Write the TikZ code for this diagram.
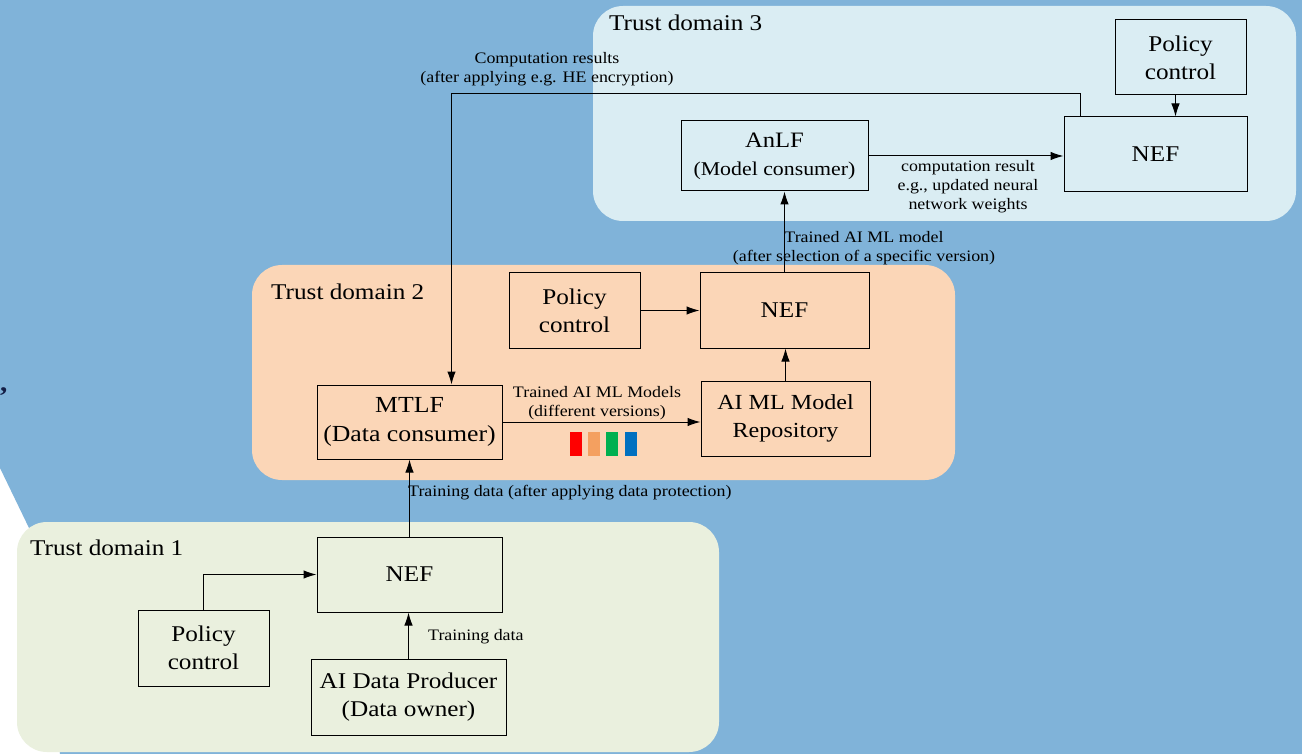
\documentclass[tikz,border=0pt]{standalone}
\usepackage{fontspec}
\setmainfont{Liberation Serif}[FakeStretch=1.12]
\usetikzlibrary{arrows.meta}
\definecolor{bgblue}{RGB}{128,179,217}
\definecolor{domthree}{RGB}{218,237,243}
\definecolor{domtwo}{RGB}{251,214,183}
\definecolor{domone}{RGB}{234,240,222}
\definecolor{navy}{RGB}{20,30,70}
\definecolor{barred}{RGB}{255,0,0}
\definecolor{barorange}{RGB}{244,160,96}
\definecolor{bargreen}{RGB}{0,176,80}
\definecolor{barblue}{RGB}{0,112,192}
\begin{document}
\begin{tikzpicture}[x=1pt,y=-1pt,
  box/.style={draw, line width=1pt, align=center, inner sep=0pt,
    font=\fontsize{22.5}{28}\selectfont},
  smallbox/.style={box, font=\fontsize{19.5}{28}\selectfont},
  lbl/.style={align=center, inner sep=0pt, font=\fontsize{16}{19}\selectfont},
  domlabel/.style={anchor=west, inner sep=0pt, font=\fontsize{22.5}{25}\selectfont},
  trustarea/.style={rounded corners=30pt},
  arr/.style={-{Latex[length=13pt,width=8.5pt]}, line width=1pt}
]
\useasboundingbox (0,0) rectangle (1302,754);
% background
\fill[white] (0,0) rectangle (1302,754);
\fill[bgblue] (0,0) -- (1302,0) -- (1302,754) -- (60,754) -- (30,530) -- (0,468) -- cycle;
\node[text=navy, anchor=west, inner sep=0pt, font=\fontsize{26}{26}\selectfont\bfseries] (comma) at (0,392) {,};

% trust domains
\fill[domthree, trustarea] (593,6) rectangle (1296,221);
\fill[domtwo, trustarea] (252,265) rectangle (955,480);
\fill[domone, trustarea] (17,522) rectangle (719,752);
\node[domlabel] (td3) at (609,23) {Trust domain 3};
\node[domlabel] (td2) at (271,292) {Trust domain 2};
\node[domlabel] (td1) at (30,548) {Trust domain 1};

% domain 3
\node[box, minimum width=131pt, minimum height=75pt] (pc3) at (1180.5,57.5) {Policy\\control};
\node[box, minimum width=183pt, minimum height=75pt] (nef3) at (1155.5,154.5) {NEF};
\node[smallbox, minimum width=187pt, minimum height=70pt] (anlf) at (774.5,156) {{\fontsize{22}{28}\selectfont AnLF}\\(Model consumer)};

% domain 2
\node[box, minimum width=131pt, minimum height=75pt] (pc2) at (574.5,310.5) {Policy\\control};
\node[box, minimum width=169pt, minimum height=75pt] (nef2) at (784.5,310.5) {NEF};
\node[box, minimum width=185pt, minimum height=74pt, font=\fontsize{23}{29}\selectfont] (mtlf) at (409.5,422) {MTLF\\(Data consumer)};
\node[box, minimum width=169pt, minimum height=75pt, font=\fontsize{21.5}{28}\selectfont] (repo) at (785.5,418.5) {AI ML Model\\Repository};

% domain 1
\node[box, minimum width=185pt, minimum height=75pt] (nef1) at (409.5,574.5) {NEF};
\node[box, minimum width=131pt, minimum height=76pt] (pc1) at (203.5,648) {Policy\\control};
\node[box, minimum width=195pt, minimum height=76pt] (prod) at (408.5,697) {AI Data Producer\\(Data owner)};

% connectors in domain 3
\draw[arr] ([xshift=-5pt]pc3.south) -- ([xshift=-5pt]pc3.south |- nef3.north);
\draw[arr] (anlf.east) -- (anlf.east -| nef3.west);
\draw[arr] ([xshift=-75pt]nef3.north) -- ++(0,-23) -| ([xshift=42pt]mtlf.north);

% connectors in domain 2
\draw[arr] (pc2.east) -- (pc2.east -| nef2.west);
\draw[arr] (repo.north) -- (repo.north |- nef2.south);
\draw[arr] (mtlf.east) -- (mtlf.east -| repo.west);
\draw[arr] (nef2.north) -- (nef2.north |- anlf.south);

% connectors in domain 1
\draw[arr] (pc1.north) |- (nef1.west);
\draw[arr] (prod.north) -- (prod.north |- nef1.south);
\draw[arr] (nef1.north) -- (mtlf.south);

% model versions
\fill[barred] (570,432) rectangle (582,456);
\fill[barorange] (588,432) rectangle (600,456);
\fill[bargreen] (606,432) rectangle (618,456);
\fill[barblue] (625,432) rectangle (637,456);

% connector labels
\node[lbl] (lcomp) at (547,69) {Computation results\\(after applying e.g. HE encryption)};
\node[lbl] (lres) at (968,187) {computation result\\e.g., updated neural\\network weights};
\node[lbl] (lsel) at (864,248) {Trained AI ML model\\(after selection of a specific version)};
\node[lbl] (lmod) at (597,403) {Trained AI ML Models\\(different versions)};
\node[lbl, anchor=west] (lprot) at (408,493) {Training data (after applying data protection)};
\node[lbl, anchor=west] (ltrain) at (428,637) {Training data};
\end{tikzpicture}
\end{document}
